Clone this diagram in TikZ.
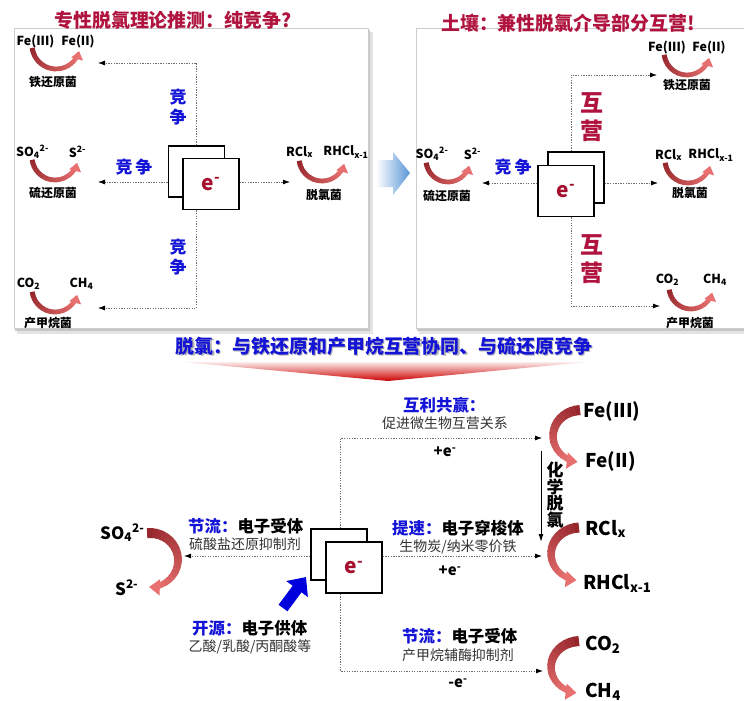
\documentclass[tikz,border=0pt]{standalone}
\usepackage{fontspec}
\setmainfont{Noto Sans CJK SC}
\usetikzlibrary{arrows.meta,calc}
\definecolor{ttred}{RGB}{176,20,62}
\definecolor{tblue}{RGB}{20,20,215}
\definecolor{ered}{RGB}{165,15,45}
\definecolor{arcD}{RGB}{150,40,45}
\definecolor{arcL}{RGB}{232,112,112}
\definecolor{subgray}{RGB}{50,50,50}
\definecolor{dotgray}{RGB}{110,110,110}
\definecolor{arrowblue}{RGB}{0,0,220}
\definecolor{lightblue}{RGB}{90,150,215}
\definecolor{trired}{RGB}{205,0,0}
\definecolor{panelgray}{RGB}{205,205,205}
\tikzset{
  ttl/.style={font=\bfseries\fontsize{19}{19}\selectfont, text=ttred},
  chemS/.style={font=\bfseries\fontsize{12.5}{13}\selectfont, inner sep=0},
  orgS/.style={font=\bfseries\fontsize{12}{12}\selectfont, inner sep=0},
  jz/.style={font=\bfseries\fontsize{17}{20}\selectfont, text=tblue, align=center, inner sep=0},
  hy/.style={font=\bfseries\fontsize{23}{28}\selectfont, text=ttred, align=center, inner sep=0},
  eS/.style={font=\bfseries\fontsize{21}{21}\selectfont, text=ered},
  ebox/.style={draw=black, line width=1.6bp, fill=white, minimum width=56bp, minimum height=51bp, inner sep=0},
  banner/.style={font=\bfseries\fontsize{19}{19}\selectfont, text=tblue},
  headS/.style={font=\bfseries\fontsize{16.5}{17}\selectfont, inner sep=0, anchor=west},
  subS/.style={font=\fontsize{14}{14}\selectfont, text=subgray, inner sep=0},
  elec/.style={font=\bfseries\fontsize{15}{15}\selectfont, inner sep=0},
  chemB/.style={font=\bfseries\fontsize{19}{19}\selectfont, inner sep=0, anchor=base west},
  chemV/.style={font=\bfseries\fontsize{17}{16.5}\selectfont, align=center, inner sep=0},
  dotarrow/.style={draw=dotgray, line width=0.8bp, dash pattern=on 1.3bp off 1.3bp, -{Latex[length=7bp,width=5bp,color=black]}}
}
% gradient curved arrow: cx, cy, rx, ry, start angle, end angle, start width, end width
\newcommand{\garc}[8]{%
  \pgfmathsetmacro\hl{1.8*#8}%
  \pgfmathsetmacro\hw{2.6*#8}%
  \pgfmathsetmacro\dang{(\hl/#4)*57.3*sign(#6-#5)}%
  \pgfmathsetmacro\aend{#6-\dang}%
  \foreach \i in {0,...,15}{%
    \pgfmathsetmacro\aa{#5+(\aend-#5)*\i/16}%
    \pgfmathsetmacro\ab{#5+(\aend-#5)*(\i+1.2)/16}%
    \pgfmathtruncatemacro\pc{100-\i*100/16}%
    \pgfmathsetmacro\lw{#7+(#8-#7)*\i/15}%
    \draw[line width=\lw bp, draw=arcD!\pc!arcL] (#1,#2) ++(\aa:#3 and #4) arc[start angle=\aa, end angle=\ab, x radius=#3, y radius=#4];
  }%
  \draw[line width=#8 bp, draw=arcL, -{Triangle[width=\hw bp,length=\hl bp]}] (#1,#2) ++(\aend:#3 and #4) arc[start angle=\aend, end angle=#6, x radius=#3, y radius=#4];
}
\begin{document}
\begin{tikzpicture}[x=1bp,y=-1bp]
\useasboundingbox (0,0) rectangle (744,701);
\clip (0,0) rectangle (744,701);
% ---------- panels ----------
\fill[gray!22] (17,32) rectangle (373,334);
\fill[gray!45] (15,30) rectangle (370,331);
\filldraw[draw=panelgray, line width=0.8bp, fill=white] (14,28) rectangle (368,328);
\fill[gray!22] (419,32) rectangle (760,334);
\fill[gray!45] (417,30) rectangle (760,331);
\filldraw[draw=panelgray, line width=0.8bp, fill=white] (416,28) rectangle (760,328);
% arrow between panels
\shade[left color=white, right color=lightblue] (376,160) -- (393,160) -- (393,152) -- (410,173) -- (393,195) -- (393,187) -- (376,187) -- cycle;

% ---------- left panel ----------
\node[ttl] (tL) at (173,20) {专性脱氯理论推测：纯竞争?};
\node[chemS] (LFe3) at (35.5,42) {Fe(III)};
\node[chemS] (LFe2) at (78,42) {Fe(II)};
\node[orgS] (LFeB) at (53,82) {铁还原菌};
\node[chemS] (LSO4) at (32.5,152) {SO\textsubscript{4}\textsuperscript{2-}};
\node[chemS] (LS) at (77.5,152) {S\textsuperscript{2-}};
\node[orgS] (LSB) at (53,193) {硫还原菌};
\node[chemS] (LRC) at (299.5,152) {RCl\textsubscript{x}};
\node[chemS] (LRH) at (346,152) {RHCl\textsubscript{x-1}};
\node[orgS] (LDB) at (324,195) {脱氯菌};
\node[chemS] (LCO) at (28.5,284) {CO\textsubscript{2}};
\node[chemS] (LCH) at (81.5,284) {CH\textsubscript{4}};
\node[orgS] (LMB) at (48,323) {产甲烷菌};
\garc{56}{45}{24}{24}{173}{15}{5}{4.5}
\garc{55}{157}{23}{23}{173}{15}{5}{4.5}
\garc{322}{158}{23}{23}{173}{15}{5}{4.5}
\garc{55}{289}{23}{23}{173}{15}{5}{4.5}
\node[jz] (LJ1) at (178,107) {竞\\争};
\node[jz] (LJ2) at (134,167) {竞\hspace{3bp}争};
\node[jz] (LJ3) at (178,257) {竞\\争};
\coordinate (LpFe) at (98,63);
\coordinate (LpSO) at (98,182);
\coordinate (LpRC) at (290,182);
\coordinate (LpCO) at (98,308);
\node[ebox] (LB1) at (196.5,171.5) {};
\node[ebox] (LF1) at (211,184) {};
\node[eS] (Le) at (LF1.center) {e\textsuperscript{-}};
\draw[dotarrow] (LB1.north) |- (LpFe);
\draw[dotarrow] (LB1.west |- LpSO) -- (LpSO);
\draw[dotarrow] (LF1.east |- LpRC) -- (LpRC);
\draw[dotarrow] (LF1.south -| LB1.north) |- (LpCO);

% ---------- right panel ----------
\node[ttl] (tR) at (568,23) {土壤：兼性脱氯介导部分互营!};
\node[chemS] (RFe3) at (667,48) {Fe(III)};
\node[chemS] (RFe2) at (709,48) {Fe(II)};
\node[orgS] (RFeB) at (687,85) {铁还原菌};
\node[chemS] (RSO4) at (432,154) {SO\textsubscript{4}\textsuperscript{2-}};
\node[chemS] (RS) at (472.5,154) {S\textsuperscript{2-}};
\node[orgS] (RSB) at (447,196) {硫还原菌};
\node[chemS] (RRC) at (668.5,155) {RCl\textsubscript{x}};
\node[chemS] (RRH) at (711,155) {RHCl\textsubscript{x-1}};
\node[orgS] (RDB) at (690,193) {脱氯菌};
\node[chemS] (RCO) at (667.5,280) {CO\textsubscript{2}};
\node[chemS] (RCH) at (715,280) {CH\textsubscript{4}};
\node[orgS] (RMB) at (690,323) {产甲烷菌};
\garc{687}{52}{23}{23}{173}{15}{5}{4.5}
\garc{448}{160}{22}{22}{173}{15}{5}{4.5}
\garc{688}{160}{23}{23}{173}{15}{5}{4.5}
\garc{691}{287}{22}{22}{173}{15}{5}{4.5}
\node[jz] (RJ) at (513,167) {竞\hspace{3bp}争};
\node[hy] (RH1) at (592,117.5) {互\\营};
\node[hy] (RH2) at (592,259) {互\\营};
\coordinate (rvx) at (571,0);
\coordinate (RpFe) at (657,75);
\coordinate (RpSO) at (482,183);
\coordinate (RpRC) at (658,183);
\coordinate (RpCO) at (660,306);
\node[ebox] (RB1) at (576,177.5) {};
\node[ebox] (RF1) at (566,191) {};
\node[eS] (Re) at (RF1.center) {e\textsuperscript{-}};
\draw[dotarrow] (RB1.north -| rvx) |- (RpFe);
\draw[dotarrow] (RF1.west |- RpSO) -- (RpSO);
\draw[dotarrow] (RB1.east |- RpRC) -- (RpRC);
\draw[dotarrow] (RF1.south -| rvx) |- (RpCO);

% ---------- banner ----------
\node[banner, text=black, opacity=0.3] (bnS) at (385.3,347.3) {脱氯：与铁还原和产甲烷互营协同、与硫还原竞争};
\node[banner] (bn) at (384,346) {脱氯：与铁还原和产甲烷互营协同、与硫还原竞争};
\shade[top color=trired!8, bottom color=trired] (183,362) -- (587,362) -- (388,381) -- cycle;

% ---------- bottom ----------
\coordinate (bvx) at (340.5,0);
\coordinate (BpFe) at (542,438);
\coordinate (BpRC) at (542,556);
\coordinate (BpSO) at (184,556);
\coordinate (BpCO) at (543,671);
\node[ebox] (BB1) at (339,554.5) {};
\node[ebox] (BF1) at (354,567.5) {};
\node[eS] (Be) at (BF1.center) {e\textsuperscript{-}};
\draw[dotarrow] (BB1.north -| bvx) |- (BpFe);
\draw[dotarrow] (BF1.east |- BpRC) -- (BpRC);
\draw[dotarrow] (BB1.west |- BpSO) -- (BpSO);
\draw[dotarrow] (BF1.south -| bvx) |- (BpCO);

\node[headS, text=tblue] (h1) at (403,405) {互利共赢：};
\node[subS] (s1) at (445,423) {促进微生物互营关系};
\node[elec] (e1) at (445,452) {+e\textsuperscript{-}};
\node[headS] (h2) at (392,528) {{\color{tblue}提速：}电子穿梭体};
\node[subS] (s2) at (458,547) {生物炭/纳米零价铁};
\node[elec] (e2) at (450,571) {+e\textsuperscript{-}};
\node[headS] (h3) at (402,636) {{\color{tblue}节流：}电子受体};
\node[subS] (s3) at (458,655) {产甲烷辅酶抑制剂};
\node[elec] (e3) at (458,683) {-e\textsuperscript{-}};
\node[headS] (h4) at (188,526) {{\color{tblue}节流：}电子受体};
\node[subS] (s4) at (245,544) {硫酸盐还原抑制剂};
\node[headS] (h5) at (192,628) {{\color{tblue}开源：}电子供体};
\node[subS] (s5) at (250,647) {乙酸/乳酸/丙酮酸等};

\node[chemB] (BFe3) at (583,417) {Fe(III)};
\node[chemB] (BFe2) at (585,467) {Fe(II)};
\node[chemB] (BRC) at (585,535) {RCl\textsubscript{x}};
\node[chemB] (BRH) at (583,589) {RHCl\textsubscript{x-1}};
\node[chemB] (BCO) at (585,650) {CO\textsubscript{2}};
\node[chemB] (BCH) at (585,697) {CH\textsubscript{4}};
\node[chemB, font=\bfseries\fontsize{17}{17}\selectfont] (BSO4) at (100,539) {SO\textsubscript{4}\textsuperscript{2-}};
\node[chemB, font=\bfseries\fontsize{17}{17}\selectfont] (BS) at (115,595) {S\textsuperscript{2-}};
\garc{581}{436}{28}{26}{268}{97}{10}{6}
\garc{580}{554}{29}{26.5}{268}{97}{10}{6}
\garc{580}{667}{29}{26}{268}{97}{10}{6}
\garc{150}{560}{28}{27}{264}{452}{10}{6}

\node[chemV] (chv) at (555,495) {化\\学\\脱\\氯};
\coordinate (chA) at (541,451);
\coordinate (chB) at (541,542);
\draw[line width=1bp, -{Latex[length=8bp,width=5bp]}] (chA) -- (chB);
\coordinate (blA) at (283,608);
\coordinate (blB) at (306,577);
\draw[line width=11bp, arrowblue, -{Triangle[width=26bp,length=15bp]}] (blA) -- (blB);
\end{tikzpicture}
\end{document}
